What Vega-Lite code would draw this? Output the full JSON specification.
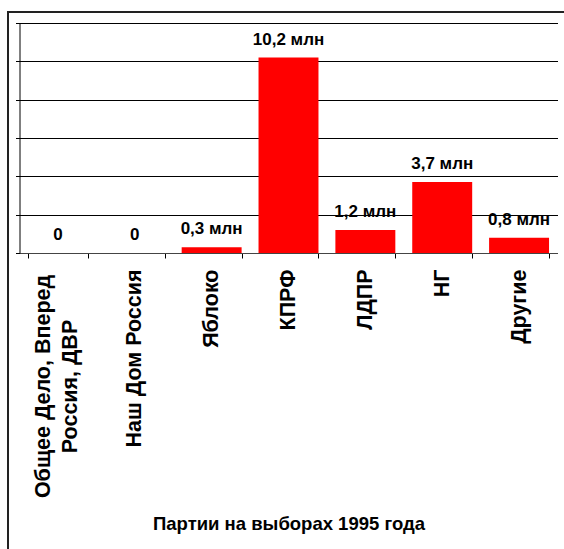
{
  "$schema": "https://vega.github.io/schema/vega-lite/v6.json",
  "width": 558,
  "height": 539,
  "autosize": {"type": "none"},
  "padding": {"left": 8, "top": 12, "right": -2, "bottom": -2},
  "background": "white",
  "config": {"view": {"stroke": "#222", "strokeWidth": 2}, "font": "Liberation Sans"},
  "data": {"values": [
    {"party": "Общее Дело, Вперед Россия, ДВР", "value": 0, "label": "0"},
    {"party": "Наш Дом Россия", "value": 0, "label": "0"},
    {"party": "Яблоко", "value": 0.3, "label": "0,3 млн"},
    {"party": "КПРФ", "value": 10.2, "label": "10,2 млн"},
    {"party": "ЛДПР", "value": 1.2, "label": "1,2 млн"},
    {"party": "НГ", "value": 3.7, "label": "3,7 млн"},
    {"party": "Другие", "value": 0.8, "label": "0,8 млн"}
  ]},
  "encoding": {
    "x": {
      "field": "party", "type": "nominal", "sort": null,
      "scale": {"range": [11.5, 549.5], "paddingInner": 0.22, "paddingOuter": 0.11},
      "axis": {
        "title": "Партии на выборах 1995 года",
        "titleFontSize": 18.5, "titleFontWeight": "bold", "titleColor": "black", "titlePadding": 61,
        "labelAngle": -90, "labelFontSize": 21.5, "labelFontWeight": "bold", "labelColor": "black",
        "labelPadding": {"condition": {"test": "datum.value == 'Общее Дело, Вперед Россия, ДВР'", "value": 128}, "value": 11},
        "labelAlign": {"condition": {"test": "datum.value == 'Общее Дело, Вперед Россия, ДВР'", "value": "center"}, "value": "right"},
        "labelLineHeight": 27, "labelLimit": 0, "labelOverlap": false,
        "labelOffset": {"condition": {"test": "datum.value == 'Общее Дело, Вперед Россия, ДВР'", "value": -14}, "value": 0},
        "labelExpr": "datum.label == 'Общее Дело, Вперед Россия, ДВР' ? ['Общее Дело, Вперед', 'Россия, ДВР'] : datum.label",
        "offset": -298, "tickBand": "extent", "tickSize": 5, "tickColor": "black",
        "domainColor": "#444", "grid": false
      }
    },
    "y": {
      "field": "value", "type": "quantitative",
      "scale": {"domain": [0, 12], "range": [241, 11], "nice": false},
      "axis": {
        "title": null, "labels": false, "offset": -11.5,
        "values": [0, 2, 4, 6, 8, 10, 12], "tickSize": 4, "tickColor": "black",
        "domainColor": "black", "grid": true, "gridColor": "black", "gridOpacity": 1
      }
    }
  },
  "layer": [
    {"mark": {"type": "bar", "color": "#ff0000"}},
    {
      "mark": {"type": "text", "fontWeight": "bold", "fontSize": 17, "dy": -13, "baseline": "alphabetic", "color": "black"},
      "encoding": {"text": {"field": "label"}}
    }
  ]
}
